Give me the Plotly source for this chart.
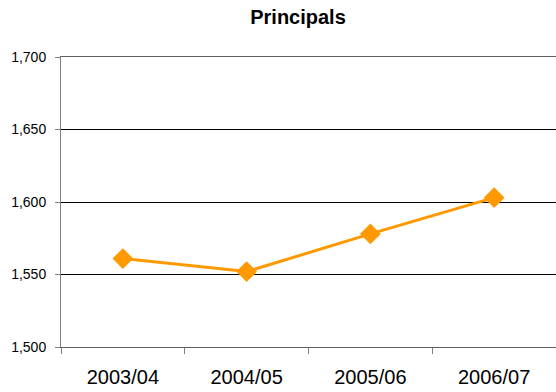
import plotly.graph_objects as go

categories = ["2003/04", "2004/05", "2005/06", "2006/07"]
principals = [1561, 1552, 1578, 1603]
y_ticks = [1500, 1550, 1600, 1650, 1700]

fig = go.Figure()
fig.add_trace(go.Scatter(
    x=categories, y=principals, mode="lines+markers",
    line=dict(color="#FF9900", width=3),
    marker=dict(symbol="diamond", size=16, color="#FF9900"),
    showlegend=False,
))

fig.update_layout(
    width=556, height=392,
    margin=dict(l=61, r=0, t=57, b=45),
    paper_bgcolor="white", plot_bgcolor="white",
    font=dict(family="Liberation Sans, Arial", color="black"),
    title=dict(text="<b>Principals</b>", x=0.536, xanchor="center", y=0.956, yanchor="middle",
               font=dict(size=20, color="black")),
    xaxis=dict(
        type="category", range=[-0.5, 3.5], tickson="boundaries",
        ticks="outside", ticklen=6, tickcolor="#808080",
        showline=True, mirror=True, linecolor="#606060", linewidth=1,
        showgrid=False, tickfont=dict(size=20), ticklabelstandoff=12,
    ),
    yaxis=dict(
        range=[y_ticks[0], y_ticks[-1]], tickvals=y_ticks, tickformat=",",
        ticks="outside", ticklen=5, tickcolor="#808080",
        showline=True, linecolor="#808080", linewidth=1,
        showgrid=True, gridcolor="black", gridwidth=1,
        tickfont=dict(size=14), zeroline=False, ticklabelstandoff=6,
    ),
)

fig.write_html(
    "out.html",
    config={"displayModeBar": False},
    post_script="document.body.style.margin='0';document.body.style.overflow='hidden';",
)
